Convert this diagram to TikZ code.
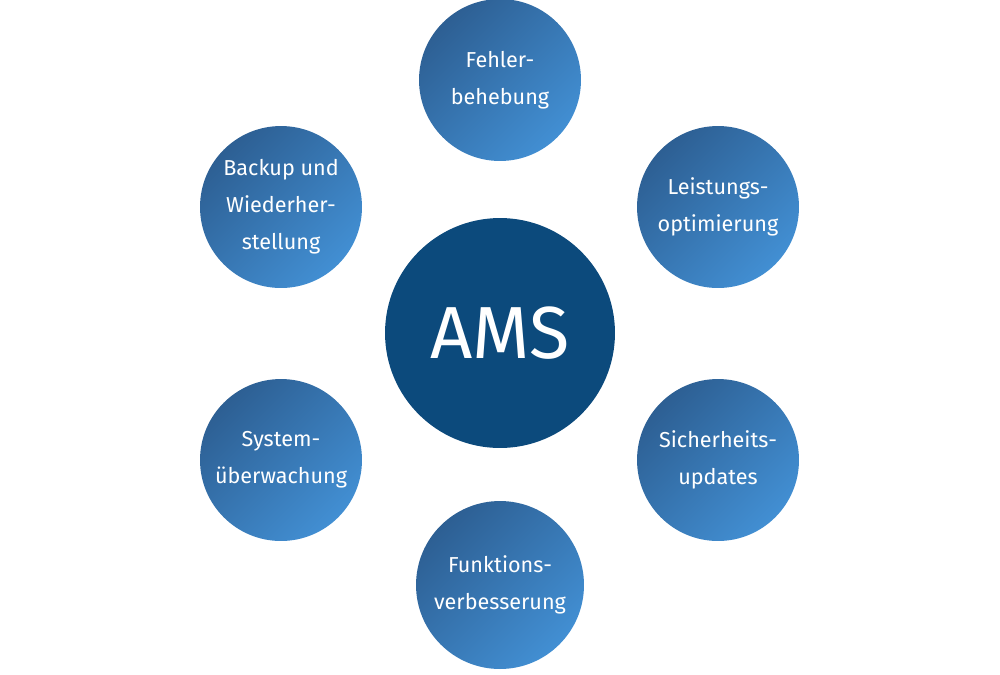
\documentclass[tikz,border=0pt]{standalone}
\usepackage{fontspec}
\setmainfont{Fira Sans}
\definecolor{cdark}{HTML}{2D5F93}
\definecolor{clight}{HTML}{428FD3}
\definecolor{ccenter}{HTML}{0C4A7C}
\begin{document}
\begin{tikzpicture}[x=0.02cm,y=-0.02cm,
  sat/.style={circle,minimum size=3.24cm,inner sep=0pt,text=white,align=center,
    font=\fontsize{12.3}{21}\selectfont,left color=cdark,right color=clight,shading angle=45},
  hub/.style={circle,minimum size=4.6cm,fill=ccenter,text=white,font=\fontsize{42}{48}\selectfont}]
\useasboundingbox (0,0) rectangle (1000,674);
\node[hub] (ams) at (500,333) {AMS};
\node[sat] (a) at (500,80) {Fehler-\\behebung};
\node[sat] (b) at (718,207) {Leistungs-\\optimierung};
\node[sat] (c) at (718,460) {Sicherheits-\\updates};
\node[sat,minimum size=3.36cm] (d) at (500,585) {Funktions-\\verbesserung};
\node[sat] (e) at (281,460) {System-\\überwachung};
\node[sat] (f) at (281,207) {Backup und\\Wiederher-\\stellung};
\end{tikzpicture}
\end{document}
